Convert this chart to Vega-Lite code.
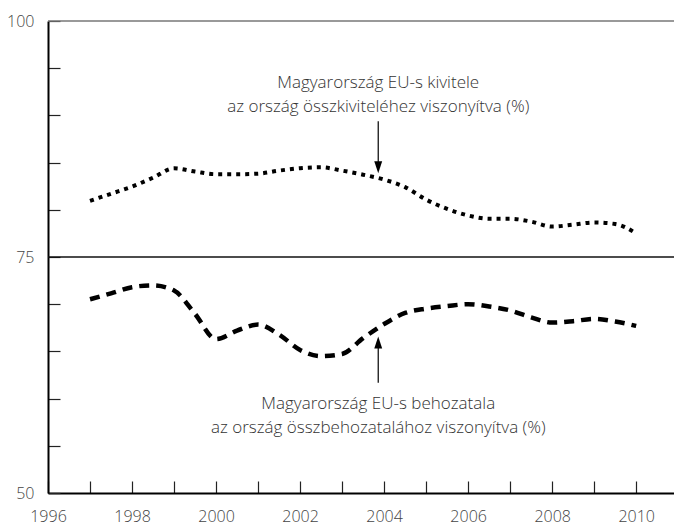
{
  "$schema": "https://vega.github.io/schema/vega-lite/v6.json",
  "width": 626,
  "height": 472,
  "autosize": {"type": "none"},
  "padding": {"left": 48, "top": 21, "right": 0, "bottom": 32},
  "background": "white",
  "config": {
    "view": {"stroke": null},
    "font": "Open Sans",
    "axis": {"labelFont": "Open Sans", "labelFontSize": 16, "labelFontWeight": 300, "labelColor": "#444444", "grid": false}
  },
  "datasets": {
    "lines": [
      {"year": 1997.0, "value": 80.95, "series": "export"},
      {"year": 1997.5, "value": 81.7, "series": "export"},
      {"year": 1998.0, "value": 82.45, "series": "export"},
      {"year": 1998.5, "value": 83.4, "series": "export"},
      {"year": 1999.0, "value": 84.4, "series": "export"},
      {"year": 1999.5, "value": 84.05, "series": "export"},
      {"year": 2000.0, "value": 83.77, "series": "export"},
      {"year": 2000.5, "value": 83.77, "series": "export"},
      {"year": 2001.0, "value": 83.83, "series": "export"},
      {"year": 2001.5, "value": 84.15, "series": "export"},
      {"year": 2002.0, "value": 84.4, "series": "export"},
      {"year": 2002.5, "value": 84.5, "series": "export"},
      {"year": 2003.0, "value": 84.15, "series": "export"},
      {"year": 2003.5, "value": 83.72, "series": "export"},
      {"year": 2004.0, "value": 83.2, "series": "export"},
      {"year": 2004.5, "value": 82.4, "series": "export"},
      {"year": 2005.0, "value": 81.08, "series": "export"},
      {"year": 2005.5, "value": 80.1, "series": "export"},
      {"year": 2006.0, "value": 79.4, "series": "export"},
      {"year": 2006.5, "value": 79.05, "series": "export"},
      {"year": 2007.0, "value": 79.05, "series": "export"},
      {"year": 2007.5, "value": 78.75, "series": "export"},
      {"year": 2008.0, "value": 78.22, "series": "export"},
      {"year": 2008.5, "value": 78.43, "series": "export"},
      {"year": 2009.0, "value": 78.65, "series": "export"},
      {"year": 2009.5, "value": 78.5, "series": "export"},
      {"year": 2010.0, "value": 77.5, "series": "export"},
      {"year": 1997.0, "value": 70.52, "series": "import"},
      {"year": 1997.5, "value": 71.15, "series": "import"},
      {"year": 1998.0, "value": 71.8, "series": "import"},
      {"year": 1998.5, "value": 72.0, "series": "import"},
      {"year": 1999.0, "value": 71.45, "series": "import"},
      {"year": 1999.5, "value": 68.97, "series": "import"},
      {"year": 2000.0, "value": 66.3, "series": "import"},
      {"year": 2000.5, "value": 67.2, "series": "import"},
      {"year": 2001.0, "value": 67.84, "series": "import"},
      {"year": 2001.5, "value": 66.78, "series": "import"},
      {"year": 2002.0, "value": 65.15, "series": "import"},
      {"year": 2002.5, "value": 64.5, "series": "import"},
      {"year": 2003.0, "value": 64.73, "series": "import"},
      {"year": 2003.5, "value": 66.4, "series": "import"},
      {"year": 2004.0, "value": 67.9, "series": "import"},
      {"year": 2004.5, "value": 69.07, "series": "import"},
      {"year": 2005.0, "value": 69.53, "series": "import"},
      {"year": 2005.5, "value": 69.8, "series": "import"},
      {"year": 2006.0, "value": 70.0, "series": "import"},
      {"year": 2006.5, "value": 69.76, "series": "import"},
      {"year": 2007.0, "value": 69.34, "series": "import"},
      {"year": 2007.5, "value": 68.6, "series": "import"},
      {"year": 2008.0, "value": 68.05, "series": "import"},
      {"year": 2008.5, "value": 68.2, "series": "import"},
      {"year": 2009.0, "value": 68.45, "series": "import"},
      {"year": 2009.5, "value": 68.17, "series": "import"},
      {"year": 2010.0, "value": 67.7, "series": "import"}
    ],
    "labels": [
      {"year": 2003.86, "value": 92.88, "text": "Magyarország EU-s kivitele"},
      {"year": 2003.86, "value": 90.4, "text": "az ország összkiviteléhez viszonyítva (%)"},
      {"year": 2003.86, "value": 58.85, "text": "Magyarország EU-s behozatala"},
      {"year": 2003.86, "value": 56.4, "text": "az ország összbehozatalához viszonyítva (%)"}
    ],
    "arrows": [
      {"year": 2003.86, "from": 89.37, "to": 84.52, "dir": "down"},
      {"year": 2003.86, "from": 61.67, "to": 65.93, "dir": "up"}
    ],
    "hlines": [
      {"value": 75, "kind": "mid"},
      {"value": 100, "kind": "top"}
    ]
  },
  "layer": [
    {
      "data": {"name": "hlines"},
      "mark": {"type": "rule", "strokeWidth": 1.5},
      "encoding": {
        "y": {"field": "value", "type": "quantitative", "scale": {"domain": [50, 100], "nice": false, "zero": false},
          "axis": {"values": [50, 55, 60, 65, 70, 75, 80, 85, 90, 95, 100],
            "labelExpr": "datum.value % 25 == 0 ? datum.label : ''",
            "tickSize": -12, "labelPadding": 26, "tickColor": "#222222", "tickWidth": 1.2,
            "domainColor": "black", "domainWidth": 2, "title": null, "labelFlush": false}},
        "color": {"field": "kind", "type": "nominal", "scale": {"domain": ["mid", "top"], "range": ["#111111", "#777777"]}, "legend": null}
      }
    },
    {
      "data": {"name": "lines"},
      "transform": [{"filter": "datum.series == 'export'"}],
      "mark": {"type": "line", "interpolate": "monotone", "color": "black", "strokeWidth": 4, "strokeDash": [4, 5]},
      "encoding": {
        "x": {"field": "year", "type": "quantitative", "scale": {"domain": [1996, 2010.9], "nice": false, "zero": false},
          "axis": {"values": [1996, 1997, 1998, 1999, 2000, 2001, 2002, 2003, 2004, 2005, 2006, 2007, 2008, 2009, 2010],
            "format": "d", "labelExpr": "datum.value % 2 == 0 ? datum.label : ''",
            "tickSize": -12, "labelPadding": 27, "tickColor": "#222222", "tickWidth": 1.2,
            "domainColor": "black", "domainWidth": 2, "title": null, "labelFlush": false}},
        "y": {"field": "value", "type": "quantitative"}
      }
    },
    {
      "data": {"name": "lines"},
      "transform": [{"filter": "datum.series == 'import'"}],
      "mark": {"type": "line", "interpolate": "monotone", "color": "black", "strokeWidth": 4.5, "strokeDash": [10, 7]},
      "encoding": {
        "x": {"field": "year", "type": "quantitative"},
        "y": {"field": "value", "type": "quantitative"}
      }
    },
    {
      "data": {"name": "arrows"},
      "mark": {"type": "rule", "color": "black", "strokeWidth": 1.2},
      "encoding": {
        "x": {"field": "year", "type": "quantitative"},
        "y": {"field": "from", "type": "quantitative"},
        "y2": {"field": "to"}
      }
    },
    {
      "data": {"name": "arrows"},
      "mark": {"type": "point", "filled": true, "color": "black", "opacity": 1, "size": 144},
      "encoding": {
        "x": {"field": "year", "type": "quantitative"},
        "y": {"field": "to", "type": "quantitative"},
        "shape": {"field": "dir", "type": "nominal", "scale": {"domain": ["down", "up"], "range": ["M-0.66,-1L0.66,-1L0,1Z", "M-0.66,1L0.66,1L0,-1Z"]}, "legend": null}
      }
    },
    {
      "data": {"name": "labels"},
      "mark": {"type": "text", "font": "Open Sans", "fontSize": 17, "fontWeight": 300, "color": "#333333", "align": "center", "baseline": "alphabetic"},
      "encoding": {
        "x": {"field": "year", "type": "quantitative"},
        "y": {"field": "value", "type": "quantitative"},
        "text": {"field": "text"}
      }
    }
  ]
}
